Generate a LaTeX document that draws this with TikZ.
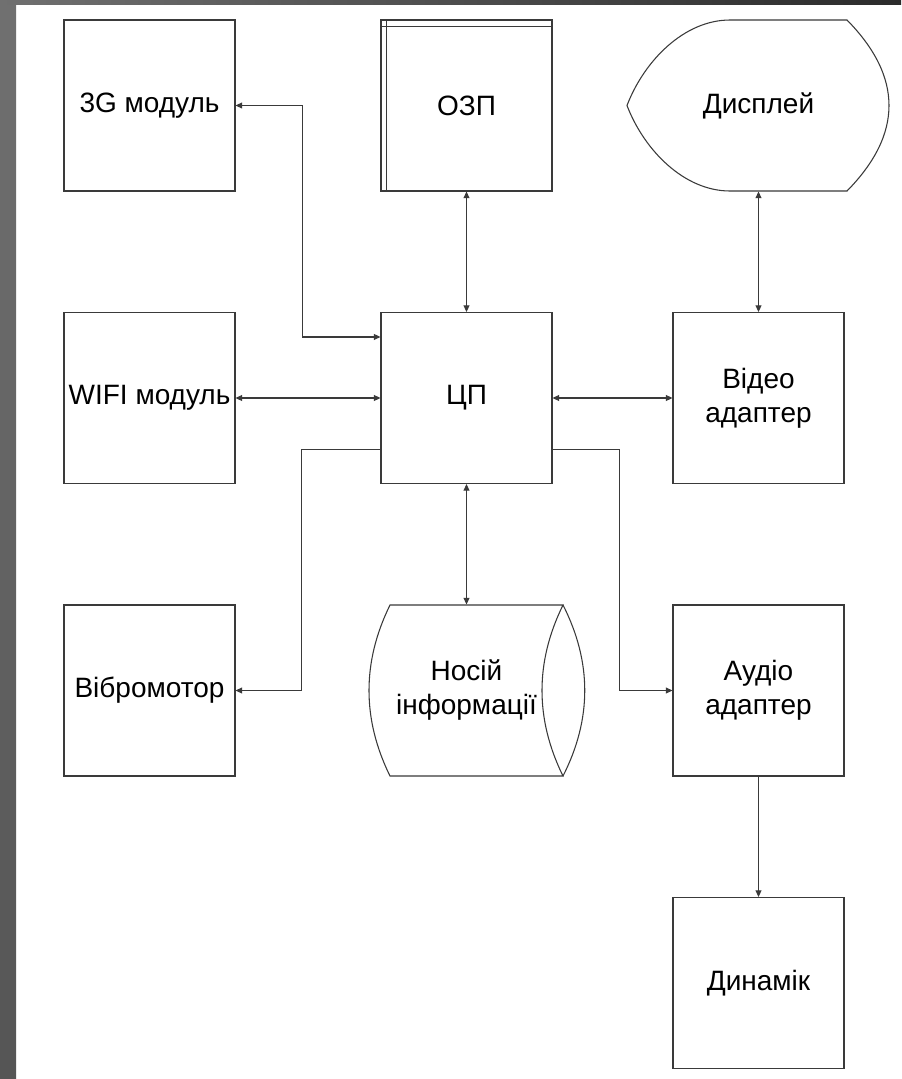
\documentclass[tikz,border=0pt]{standalone}
\usepackage{fontspec}
\setmainfont{Liberation Sans}
\usetikzlibrary{arrows.meta,calc}
\definecolor{framegray}{HTML}{707070}
\definecolor{framelow}{HTML}{555555}
\definecolor{framedark}{HTML}{2B2B2B}
\definecolor{linegray}{HTML}{3A3A3A}

\begin{document}
\begin{tikzpicture}[x=0.75pt,y=-0.75pt,
    block/.style={draw=linegray,line width=0.8pt,minimum size=128.25pt,inner sep=0pt,align=center,font=\fontsize{21}{25.5}\selectfont},
    plainblock/.style={block,draw=none},
    outline/.style={draw=linegray,line width=0.8pt},
    conn/.style={outline,-{Triangle[length=5pt,width=4.5pt]}},
    bothconn/.style={outline,{Triangle[length=5pt,width=4.5pt]}-{Triangle[length=5pt,width=4.5pt]}}]
  \useasboundingbox (0,0) rectangle (901,1079);
  % frame
  \fill[white] (0,0) rectangle (901,1079);
  \shade[top color=framegray,bottom color=framelow] (0,0) rectangle (16,1079);
  \shade[left color=framegray,right color=framedark] (0,0) rectangle (901,4);

  % blocks
  \node[block] (g3) at (149.5,105.5) {3G модуль};
  \node[block] (ozp) at (466.5,105.5) {ОЗП};
  \node[plainblock] (disp) at (758.5,105.5) {Дисплей};
  \node[block] (wifi) at (149.5,398) {WIFI модуль};
  \node[block] (cpu) at (466.5,398) {ЦП};
  \node[block] (video) at (758.5,398) {Відео\\адаптер};
  \node[block] (vibro) at (149.5,690.5) {Вібромотор};
  \node[plainblock] (store) at (466.5,690.5) {Носій\\інформації};
  \node[block] (audio) at (758.5,690.5) {Аудіо\\адаптер};
  \node[block] (dyn) at (758.5,983) {Динамік};

  % special outlines
  \draw[outline] ($(ozp.north west)+(6,0)$) -- ($(ozp.south west)+(6,0)$)
    ($(ozp.north west)+(0,7)$) -- ($(ozp.north east)+(0,7)$);
  \draw[outline] (730,20) -- (847,20) .. controls (903,77) and (903,134) .. (847,191)
    -- (730,191) .. controls (684,191) and (644,150) .. (627,105.5)
    .. controls (644,61) and (684,20) .. (730,20) -- cycle;
  \draw[outline] (390,605) -- (563,605) .. controls (535,662) and (535,719) .. (563,776)
    -- (390,776) .. controls (362,719) and (362,662) .. (390,605) -- cycle;
  \draw[outline] (563,605) .. controls (592,662) and (592,719) .. (563,776);

  % connections
  \coordinate (cpuA) at ($(cpu.north west)+(0,25)$);
  \coordinate (cpuB) at ($(cpu.south west)+(0,-35)$);
  \coordinate (cpuC) at ($(cpu.south east)+(0,-35)$);
  \draw[bothconn] (ozp.south) -- (cpu.north);
  \draw[bothconn] (disp.south) -- (video.north);
  \draw[bothconn] (wifi.east) -- (cpu.west);
  \draw[bothconn] (cpu.east) -- (video.west);
  \draw[bothconn] (cpu.south) -- (store.north);
  \draw[bothconn] (g3.east) -- ++(67,0) |- (cpuA);
  \draw[conn] (cpuB) -- ++(-79,0) |- (vibro.east);
  \draw[conn] (cpuC) -- ++(67,0) |- (audio.west);
  \draw[conn] (audio.south) -- (dyn.north);
\end{tikzpicture}
\end{document}
